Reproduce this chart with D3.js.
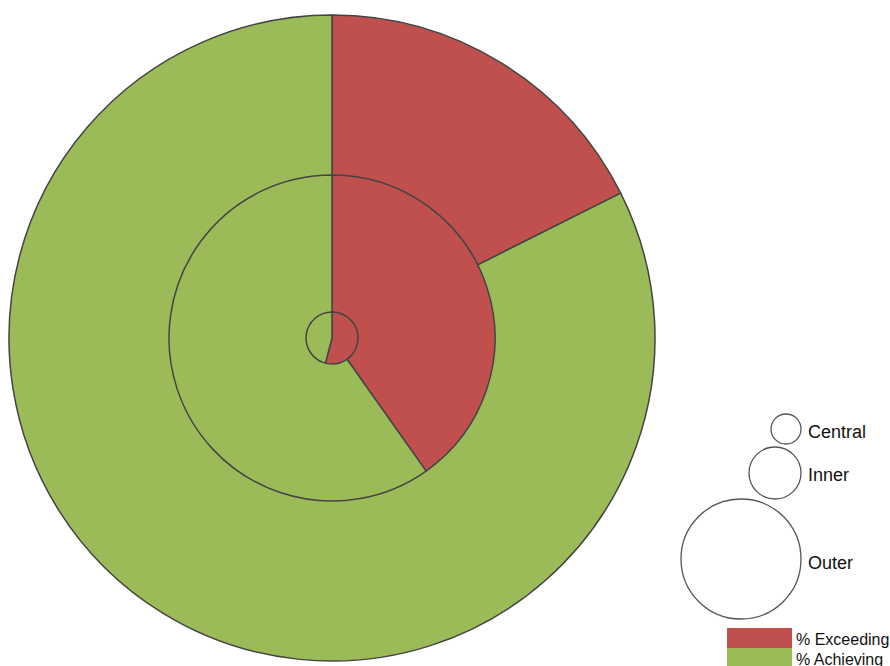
<!DOCTYPE html>
<html>
<head>
<meta charset="utf-8">
<script src="https://cdn.jsdelivr.net/npm/d3@7"></script>
<style>
  body { margin: 0; background: #fff; }
  text { font-family: "Liberation Sans", Arial, sans-serif; fill: #111; }
</style>
</head>
<body>
<script>
// share of pupils in each ring
var categories = ["% Exceeding", "% Achieving"];
var rings = ["Outer", "Inner", "Central"];
var outer_values = [17.6, 82.4];
var inner_values = [40.2, 59.8];
var central_values = [54.1, 45.9];
var colors = ["#C0504D", "#9BBB59"];

var width = 890, height = 666;

var svg = d3.select("body")
  .append("svg")
  .attr("width", width)
  .attr("height", height);

var cx = 332, cy = 338;
var radii = {Outer: 323, Inner: 163, Central: 26};
var ringData = {Outer: outer_values, Inner: inner_values, Central: central_values};

var pie = d3.pie().sort(null).value(function(d) { return d; });
var color = d3.scaleOrdinal().domain(d3.range(categories.length)).range(colors);

var g = svg.append("g").attr("transform", "translate(" + cx + "," + cy + ")");

rings.forEach(function(name) {
  var arc = d3.arc().innerRadius(0).outerRadius(radii[name]);
  g.append("g")
    .attr("class", "ring " + name)
    .selectAll("path")
    .data(pie(ringData[name]))
    .enter()
    .append("path")
      .attr("d", arc)
      .attr("fill", function(d, i) { return color(i); })
      .attr("stroke", "#444")
      .attr("stroke-width", 1.5)
      .attr("stroke-linejoin", "round");
});

// size legend
var sizeLegend = [
  {name: "Central", r: 15, cy: 429, base: 438},
  {name: "Inner", r: 26, cy: 473, base: 481},
  {name: "Outer", r: 60, cy: 559, base: 569}
];
var lg = svg.append("g").attr("class", "size-legend");
sizeLegend.forEach(function(d) {
  lg.append("circle")
    .attr("cx", 801 - d.r)
    .attr("cy", d.cy)
    .attr("r", d.r)
    .attr("fill", "#fff")
    .attr("stroke", "#555")
    .attr("stroke-width", 1.3);
  lg.append("text")
    .attr("x", 808)
    .attr("y", d.base)
    .attr("font-size", 18)
    .text(d.name);
});

// colour legend
var cl = svg.append("g").attr("class", "color-legend");
categories.forEach(function(c, i) {
  cl.append("rect")
    .attr("x", 727)
    .attr("y", 628 + i * 20)
    .attr("width", 65)
    .attr("height", 20)
    .attr("fill", color(i));
  cl.append("text")
    .attr("x", 796)
    .attr("y", 645 + i * 20)
    .attr("font-size", 16)
    .text(c);
});
</script>
</body>
</html>
